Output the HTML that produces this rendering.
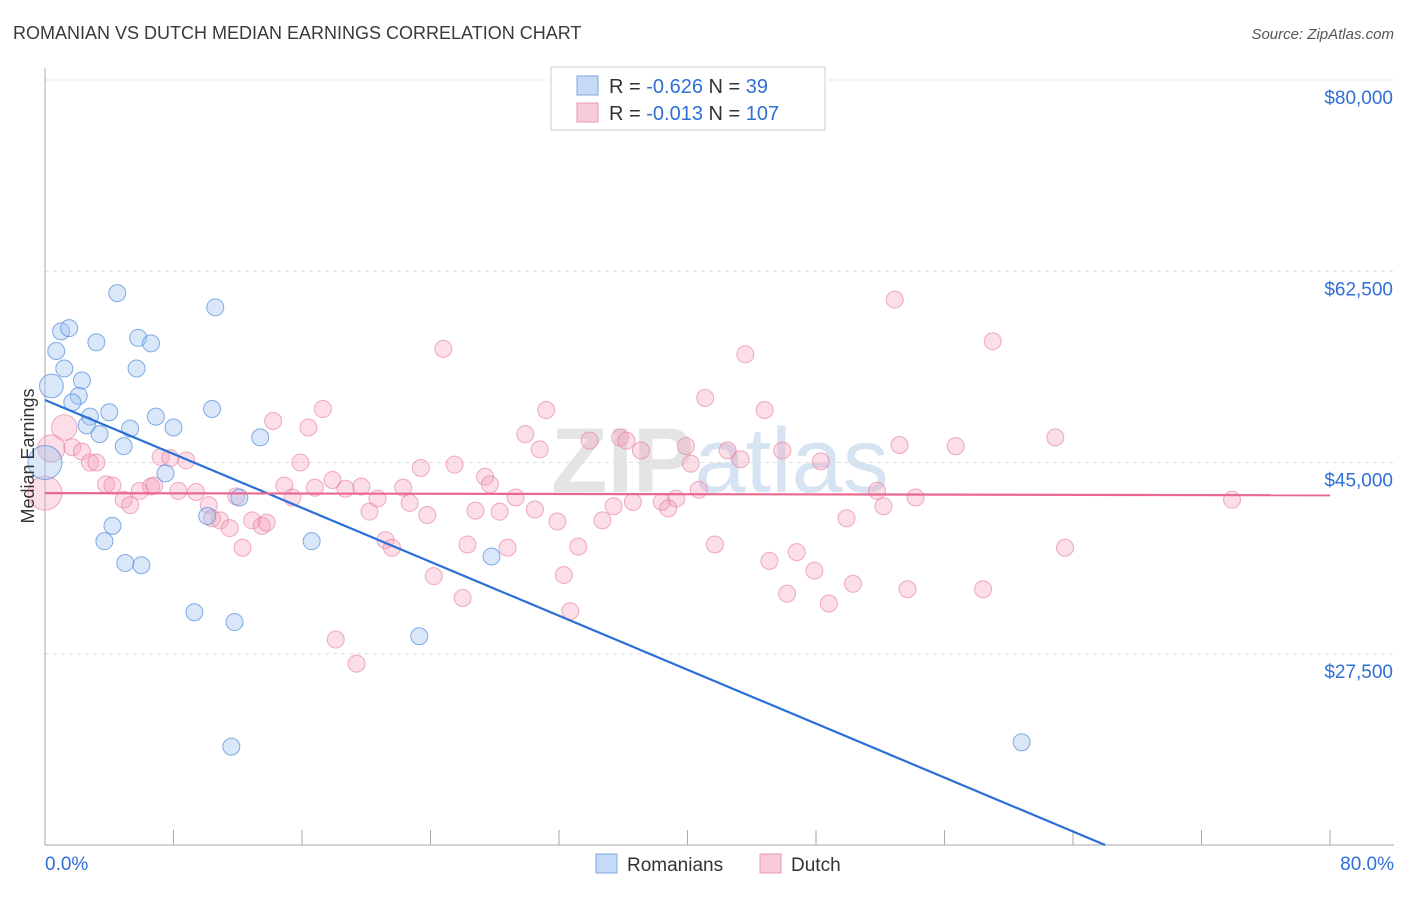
<!DOCTYPE html>
<html><head><meta charset="utf-8"><style>
body{margin:0;background:#fff;font-family:"Liberation Sans",sans-serif}
svg text{font-family:"Liberation Sans",sans-serif}
</style></head><body>
<svg id="chart" width="1406" height="892" viewBox="0 0 1406 892">
<text x="13" y="39" font-size="18" fill="#3a3a3a">ROMANIAN VS DUTCH MEDIAN EARNINGS CORRELATION CHART</text>
<text x="1394" y="39" font-size="15" fill="#555" text-anchor="end" font-style="italic">Source: ZipAtlas.com</text>
<text x="720" y="492" font-size="92" fill="#e4e4e4" text-anchor="middle" font-family="Liberation Serif" font-weight="bold">ZIP<tspan fill="#d6e3f2" font-family="Liberation Sans" font-weight="normal">atlas</tspan></text>
<g id="grid"></g>
<g id="axes"></g>
<g id="marks"></g>
<text transform="translate(34,456) rotate(-90)" font-size="18" fill="#333" text-anchor="middle">Median Earnings</text>
<g>
<rect x="551" y="67" width="274" height="63" fill="#fff" stroke="#ccc"/>
<rect x="577" y="76" width="21" height="19" fill="#c5daf5" stroke="#7ea7e0"/>
<rect x="577" y="103" width="21" height="19" fill="#f8cbd8" stroke="#e99ab2"/>
<text x="609" y="93" font-size="20" fill="#333">R = <tspan fill="#2f6fd6">-0.626</tspan>   N = <tspan fill="#2f6fd6"> 39</tspan></text>
<text x="609" y="120" font-size="20" fill="#333">R = <tspan fill="#2f6fd6">-0.013</tspan>   N = <tspan fill="#2f6fd6">107</tspan></text>
</g>
<g>
<rect x="596" y="854" width="21" height="19" fill="#c5daf5" stroke="#7ea7e0"/>
<text x="627" y="871" font-size="19" fill="#333">Romanians</text>
<rect x="760" y="854" width="21" height="19" fill="#f8cbd8" stroke="#e99ab2"/>
<text x="791" y="871" font-size="19" fill="#333">Dutch</text>
</g>
</svg>
<script>
const yTicks=[27500,45000,62500,80000];
const yTickLabels=["$27,500","$45,000","$62,500","$80,000"];
const xTickLabels=["0.0%","80.0%"];
const romX=[4.5,10.6,1.0,1.5,3.2,5.8,6.6,0.7,1.2,5.7,2.3,0.4,2.1,1.7,4.0,10.4,6.9,2.8,2.6,5.3,8.0,3.4,13.4,4.9,0,7.5,12.1,10.1,4.2,3.7,16.6,27.8,5.0,6.0,9.3,11.8,23.3,11.6,60.8];
const romY=[60.5,59.2,57.0,57.3,56.0,56.4,55.9,55.2,53.6,53.6,52.5,52.0,51.1,50.5,49.6,49.9,49.2,49.2,48.4,48.1,48.2,47.6,47.3,46.5,45.0,44.0,41.8,40.1,39.2,37.8,37.8,36.4,35.8,35.6,31.3,30.4,29.1,19.0,19.4];
const romSize=[1,1,1,1,1,1,1,1,1,1,1,1.4,1,1,1,1,1,1,1,1,1,1,1,1,2,1,1,1,1,1,1,1,1,1,1,1,1,1,1];
const dutX=[0,0.4,1.2,1.7,2.3,2.8,3.2,3.8,4.2,4.9,5.3,5.9,6.6,6.8,7.2,7.8,8.8,8.3,9.4,10.2,10.4,10.9,11.5,12.3,11.9,12.9,13.5,13.8,14.2,14.9,15.4,15.9,16.4,16.8,17.3,17.9,18.1,18.7,19.4,19.7,20.2,20.7,21.2,21.6,22.3,22.7,23.4,23.8,24.2,24.8,25.5,26.0,26.3,26.8,27.4,27.7,28.3,28.8,29.3,29.9,30.5,30.8,31.2,31.9,32.3,32.7,33.2,33.9,34.7,35.4,35.8,36.2,36.6,37.1,38.4,38.8,39.3,39.9,40.2,40.7,41.1,41.7,42.5,43.3,43.6,44.8,45.1,45.9,46.2,46.8,47.9,48.3,48.8,49.9,50.3,51.8,52.2,52.9,53.2,53.7,54.2,56.7,58.4,59.0,62.9,63.5,73.9];
const dutY=[42.2,46.3,48.2,46.4,46.0,45.0,45.0,43.0,42.9,41.6,41.1,42.4,42.8,42.9,45.5,45.4,45.2,42.4,42.3,41.1,39.9,39.7,39.0,37.2,41.9,39.7,39.2,39.5,48.8,42.9,41.8,45.0,48.2,42.7,49.9,43.4,28.8,42.6,26.6,42.8,40.5,41.7,37.9,37.2,42.7,41.3,44.5,40.2,34.6,55.4,44.8,32.6,37.5,40.6,43.7,43.0,40.5,37.2,41.8,47.6,40.7,46.2,49.8,39.6,34.7,31.4,37.3,47.0,39.7,41.0,47.3,47.0,41.4,46.1,41.4,40.8,41.7,46.5,44.9,42.5,50.9,37.5,46.1,45.3,54.9,49.8,36.0,46.1,33.0,36.8,35.1,45.1,32.1,39.9,33.9,42.4,41.0,59.9,46.6,33.4,41.8,46.5,33.4,56.1,47.3,37.2,41.6];
const dutSize=[2,1.6,1.5];
const romTrend=[50.72,-0.617];
const dutTrend=[42.2,-0.0025];
const NS="http://www.w3.org/2000/svg";
const xs=v=>45+v/80*1285;
const ys=v=>845-(v-10000)/70000*765;
function mk(t,a,p){const e=document.createElementNS(NS,t);for(const k in a)e.setAttribute(k,a[k]);p.appendChild(e);return e;}
const grid=document.getElementById('grid'),axes=document.getElementById('axes'),marks=document.getElementById('marks');
yTicks.forEach((v,i)=>{
const l=mk('line',{x1:45,x2:1394,y1:ys(v),y2:ys(v),stroke:'#ddd','stroke-dasharray':'4,4'},grid);


const t=mk('text',{x:1393,y:ys(v)+24,'font-size':19,fill:'#2f6fd6','text-anchor':'end'},axes);
t.textContent=yTickLabels[i];


});
const ya=mk('line',{x1:45,x2:45,y1:68,y2:845,stroke:'#aaa'},axes);


const xa=mk('line',{x1:45,x2:1394,y1:845,y2:845,stroke:'#aaa'},axes);


for(let p=8;p<=80;p+=8){const tk=mk('line',{x1:xs(p),x2:xs(p),y1:830,y2:845,stroke:'#aaa'},axes);

}
[[0,'start',45],[80,'end',1394]].forEach((d,i)=>{const t=mk('text',{x:d[2],y:870,'font-size':19,fill:'#2f6fd6','text-anchor':d[1]},axes);t.textContent=xTickLabels[i];

});
dutX.forEach((x,i)=>{const c=mk('circle',{cx:xs(x),cy:ys(dutY[i]*1000),r:8.5*(dutSize[i]||1),fill:'rgba(244,160,187,0.35)',stroke:'rgba(232,120,155,0.6)','stroke-width':1},marks);

});
romX.forEach((x,i)=>{const c=mk('circle',{cx:xs(x),cy:ys(romY[i]*1000),r:8.5*romSize[i],fill:'rgba(160,196,240,0.4)',stroke:'rgba(80,140,220,0.7)','stroke-width':1},marks);

});
const xEnd=(10-romTrend[0])/romTrend[1];
const bl=mk('line',{x1:xs(0),y1:ys(romTrend[0]*1000),x2:xs(xEnd),y2:ys(10000),stroke:'#2a6fd8','stroke-width':2.2},marks);


const pl=mk('line',{x1:xs(0),y1:ys(dutTrend[0]*1000),x2:xs(80),y2:ys((dutTrend[0]+dutTrend[1]*80)*1000),stroke:'#e8688f','stroke-width':2.2},marks);


</script>
</body></html>
